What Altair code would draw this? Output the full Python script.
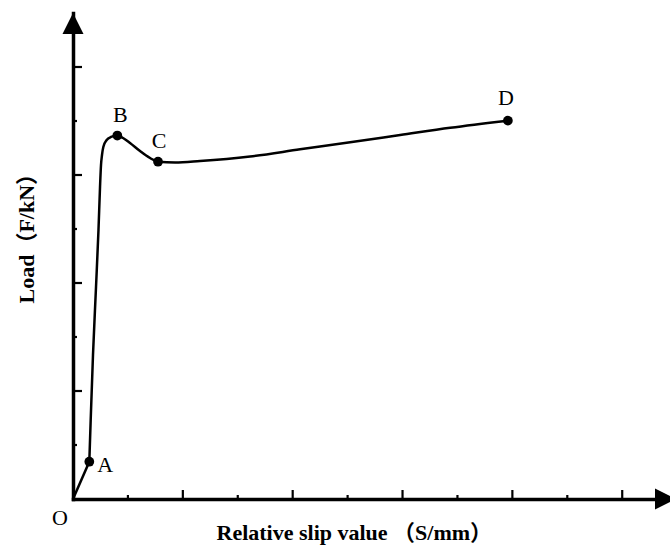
import altair as alt
import pandas as pd

# Load–slip curve (slip in axis units, load in axis units), from point A onward
slip = [0.297, 0.322, 0.364, 0.419, 0.464, 0.492, 0.510, 0.528, 0.552,
        0.614, 0.692, 0.807, 0.911, 1.038, 1.220, 1.403, 1.548, 1.858, 2.313,
        3.224, 4.135, 5.046, 5.957, 6.868, 7.918]
load = [0.691, 1.463, 2.667, 3.926, 4.981, 5.778, 6.185, 6.370, 6.519,
        6.648, 6.704, 6.731, 6.685, 6.593, 6.444, 6.315, 6.246, 6.231, 6.259,
        6.343, 6.475, 6.605, 6.740, 6.875, 7.006]

# Initial straight segment from the origin O to point A
start_slip = [0.0, 0.297]
start_load = [0.0, 0.691]

# Characteristic points
key_names = ["A", "B", "C", "D"]
key_slip = [0.297, 0.807, 1.548, 7.918]
key_load = [0.691, 6.731, 6.246, 7.006]

# Tick positions along each axis
x_major = [2, 4, 6, 8, 10]
x_minor = [1, 3, 5, 7, 9]
y_major = [2, 4, 6, 8]
y_minor = [1, 3, 5, 7]

X_MAX = 10.87
Y_MAX = 9.0

SERIF = "Liberation Serif, Noto Sans CJK SC"

curve = pd.DataFrame({"slip": slip, "load": load})
start = pd.DataFrame({"slip": start_slip, "load": start_load})
keys = pd.DataFrame({"name": key_names, "slip": key_slip, "load": key_load})

xs = alt.Scale(domain=[0, X_MAX], nice=False, zero=False)
ys = alt.Scale(domain=[0, Y_MAX], nice=False, zero=False)

x_axis = alt.Axis(
    domain=True, domainWidth=3.5, domainColor="black", domainCap="square",
    ticks=False, labels=False, grid=False,
    title="Relative slip value  （S/mm）", titleFont=SERIF, titleFontSize=22,
    titleFontWeight="bold", titleColor="black",
    titleX=143, titleY=33, titleAlign="left", titleBaseline="middle",
)
y_axis = alt.Axis(
    domain=True, domainWidth=3.5, domainColor="black", domainCap="square",
    ticks=False, labels=False, grid=False,
    title="Load（F/kN）", titleFont=SERIF, titleFontSize=22,
    titleFontWeight="bold", titleColor="black",
    titleX=-47, titleY=290, titleAngle=270, titleAlign="left",
    titleBaseline="middle",
)


def X(field=None, **kw):
    if field is None:
        return alt.X(scale=xs, axis=x_axis, **kw)
    return alt.X(field, scale=xs, axis=x_axis, **kw)


def Y(field=None, **kw):
    if field is None:
        return alt.Y(scale=ys, axis=y_axis, **kw)
    return alt.Y(field, scale=ys, axis=y_axis, **kw)


line = alt.Chart(curve).mark_line(
    color="black", strokeWidth=2.5, interpolate="monotone"
).encode(x=X("slip:Q"), y=Y("load:Q"), order="slip:Q")

first_leg = alt.Chart(start).mark_line(
    color="black", strokeWidth=2.5
).encode(x=X("slip:Q"), y=Y("load:Q"))

dots = alt.Chart(keys).mark_point(
    filled=True, color="black", size=95, opacity=1
).encode(x=X("slip:Q"), y=Y("load:Q"))

# Letter labels beside each characteristic point
label_offsets = {"A": (16, 3), "B": (3, -21), "C": (1, -21), "D": (-2, -23)}
labels = []
for name, (ddx, ddy) in label_offsets.items():
    labels.append(
        alt.Chart(keys).transform_filter(alt.datum.name == name).mark_text(
            font=SERIF, fontSize=22, color="black", dx=ddx, dy=ddy,
            align="center", baseline="middle",
        ).encode(x=X("slip:Q"), y=Y("load:Q"), text="name:N")
    )

origin = alt.Chart(pd.DataFrame({"t": ["O"]})).mark_text(
    font=SERIF, fontSize=22, color="black", dx=-13, dy=19,
    align="center", baseline="middle",
).encode(x=X(datum=0), y=Y(datum=0), text="t:N")

# Inward ticks on the x axis
xt_major = alt.Chart(pd.DataFrame({"v": x_major})).mark_rule(
    color="black", strokeWidth=2.2, y2Offset=-9
).encode(x=X("v:Q"), y=Y(datum=0), y2=alt.Y2(datum=0))
xt_minor = alt.Chart(pd.DataFrame({"v": x_minor})).mark_rule(
    color="black", strokeWidth=2.2, y2Offset=-4
).encode(x=X("v:Q"), y=Y(datum=0), y2=alt.Y2(datum=0))
# Inward ticks on the y axis
yt_major = alt.Chart(pd.DataFrame({"v": y_major})).mark_rule(
    color="black", strokeWidth=2.2, x2Offset=9
).encode(y=Y("v:Q"), x=X(datum=0), x2=alt.X2(datum=0))
yt_minor = alt.Chart(pd.DataFrame({"v": y_minor})).mark_rule(
    color="black", strokeWidth=2.2, x2Offset=4
).encode(y=Y("v:Q"), x=X(datum=0), x2=alt.X2(datum=0))

# Arrowheads at the ends of both axes
up_arrow = alt.Chart(pd.DataFrame({"k": [0]})).mark_point(
    shape="M0,0 L-0.5,1 L0.5,1 Z", size=1764, filled=True,
    color="black", opacity=1,
).encode(x=X(datum=0), y=Y(datum=Y_MAX))
right_arrow = alt.Chart(pd.DataFrame({"k": [0]})).mark_point(
    shape="M0,0 L-1,-0.5 L-1,0.5 Z", size=1764, filled=True,
    color="black", opacity=1, xOffset=6,
).encode(x=X(datum=X_MAX), y=Y(datum=0))

chart = alt.layer(
    line, first_leg, xt_major, xt_minor, yt_major, yt_minor, up_arrow,
    right_arrow, dots, *labels, origin,
).properties(
    width=597, height=486,
    autosize=alt.AutoSizeParams(type="none"),
    padding={"left": 73, "top": 13, "right": 0, "bottom": 46},
    background="white",
).configure_view(stroke=None)

chart.save("out.html", embed_options={"renderer": "svg", "actions": False})
